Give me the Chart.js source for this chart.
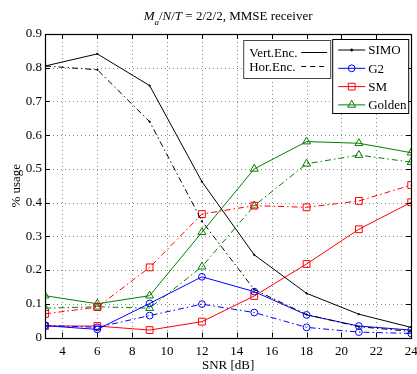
<!DOCTYPE html>
<html>
<head>
<meta charset="utf-8">
<script src="https://cdn.jsdelivr.net/npm/chart.js@4.4.1/dist/chart.umd.min.js"></script>
<style>
html, body { margin: 0; padding: 0; background: #fff; }
#wrap { width: 417px; height: 374px; position: relative; }
</style>
</head>
<body>
<div id="wrap"><canvas id="myChart"></canvas></div>
<script>
// SNR points and usage per scheme (Vert = solid, Hor = dash-dot)
const snr = [3, 6, 9, 12, 15, 18, 21, 24];
const simoVert = [0.805, 0.841, 0.747, 0.462, 0.245, 0.131, 0.069, 0.030];
const simoHor = [0.805, 0.794, 0.640, 0.345, 0.142, 0.068, 0.032, 0.018];
const g2Vert = [0.035, 0.024, 0.101, 0.180, 0.136, 0.067, 0.034, 0.022];
const g2Hor = [0.036, 0.030, 0.065, 0.099, 0.074, 0.030, 0.016, 0.012];
const smVert = [0.034, 0.034, 0.022, 0.047, 0.123, 0.218, 0.321, 0.401];
const smHor = [0.070, 0.090, 0.208, 0.366, 0.391, 0.386, 0.405, 0.452];
const goldenVert = [0.124, 0.100, 0.124, 0.312, 0.500, 0.581, 0.576, 0.548];
const goldenHor = [0.087, 0.091, 0.087, 0.210, 0.391, 0.515, 0.541, 0.520];

const xTicks = [4, 6, 8, 10, 12, 14, 16, 18, 20, 22, 24];
const yTicks = [0, 0.1, 0.2, 0.3, 0.4, 0.5, 0.6, 0.7, 0.8, 0.9];
const yTickLabels = ['0', '0.1', '0.2', '0.3', '0.4', '0.5', '0.6', '0.7', '0.8', '0.9'];

const FONT = '"Liberation Serif", "Times New Roman", serif';
const dashDot = [6, 3, 1.5, 3];

const schemes = [
  { name: 'SIMO', color: '#000000', style: 'circle', r: 0.7, fill: '#000000' },
  { name: 'G2', color: '#0000ff', style: 'circle', r: 3.4, fill: 'rgba(0,0,0,0)' },
  { name: 'SM', color: '#ff0000', style: 'rect', r: 4.8, fill: 'rgba(0,0,0,0)' },
  { name: 'Golden', color: '#008000', style: 'triangle', r: 4.6, fill: 'rgba(0,0,0,0)' }
];
const series = [
  [simoVert, simoHor],
  [g2Vert, g2Hor],
  [smVert, smHor],
  [goldenVert, goldenHor]
];

const datasets = [];
schemes.forEach((s, i) => {
  series[i].forEach((vals, k) => {
    datasets.push({
      label: s.name + (k ? ' Hor' : ' Vert'),
      data: snr.map((x, j) => ({ x: x, y: vals[j] })),
      borderColor: s.color,
      backgroundColor: s.color,
      borderWidth: 1,
      borderDash: k ? dashDot : [],
      pointStyle: s.style,
      pointRadius: s.r,
      pointBorderWidth: 1,
      pointBackgroundColor: s.fill,
      pointBorderColor: s.color,
      tension: 0
    });
  });
});

function drawTitle(ctx, a) {
  const parts = [
    { t: 'M', f: 'italic 13px ' + FONT, dy: 0 },
    { t: 'a', f: 'italic 9px ' + FONT, dy: 5 },
    { t: '/', f: '13px ' + FONT, dy: 0 },
    { t: 'N', f: 'italic 13px ' + FONT, dy: 0 },
    { t: '/', f: '13px ' + FONT, dy: 0 },
    { t: 'T', f: 'italic 13px ' + FONT, dy: 0 },
    { t: ' = 2/2/2, MMSE receiver', f: '13px ' + FONT, dy: 0 }
  ];
  let total = 0;
  parts.forEach(p => { ctx.font = p.f; p.w = ctx.measureText(p.t).width; total += p.w; });
  let x = (a.left + a.right) / 2 - total / 2;
  ctx.fillStyle = '#000';
  ctx.textBaseline = 'alphabetic';
  ctx.textAlign = 'left';
  parts.forEach(p => { ctx.font = p.f; ctx.fillText(p.t, x, 20 + p.dy); x += p.w; });
}

function drawLegends(ctx, a) {
  ctx.font = '13px ' + FONT;
  ctx.textBaseline = 'middle';
  ctx.textAlign = 'left';

  // scheme legend
  const rw = 76, rh = 74;
  const rx = a.right - 3 - rw, ry = a.top + 5;
  ctx.fillStyle = '#fff';
  ctx.fillRect(rx, ry, rw, rh);
  ctx.strokeStyle = '#000';
  ctx.lineWidth = 1;
  ctx.setLineDash([]);
  ctx.strokeRect(rx + 0.5, ry + 0.5, rw, rh);
  schemes.forEach((s, i) => {
    const cy = ry + 11 + i * 18.3;
    ctx.strokeStyle = s.color;
    ctx.beginPath();
    ctx.moveTo(rx + 6, cy);
    ctx.lineTo(rx + 33, cy);
    ctx.stroke();
    ctx.fillStyle = s.fill;
    Chart.helpers.drawPoint(ctx, { pointStyle: s.style, radius: Math.max(s.r, 1), borderWidth: 1, rotation: 0 }, rx + 19.5, cy);
    ctx.fillStyle = '#000';
    ctx.fillText(s.name, rx + 36, cy + 1);
  });

  // encoding legend
  const lw = 87, lh = 38;
  const lx = rx - 2 - lw, ly = a.top + 6;
  ctx.fillStyle = '#fff';
  ctx.fillRect(lx, ly, lw, lh);
  ctx.strokeStyle = '#444';
  ctx.strokeRect(lx + 0.5, ly + 0.5, lw, lh);
  [['Vert.Enc.', []], ['Hor.Enc.', [5, 4]]].forEach((e, i) => {
    const cy = ly + 12.5 + i * 14;
    ctx.fillStyle = '#000';
    ctx.fillText(e[0], lx + 6, cy + 1);
    ctx.strokeStyle = '#000';
    ctx.setLineDash(e[1]);
    ctx.beginPath();
    ctx.moveTo(lx + 58, cy);
    ctx.lineTo(lx + 84, cy);
    ctx.stroke();
  });
  ctx.setLineDash([]);
}

const frame = {
  id: 'frame',
  beforeDatasetsDraw(chart) {
    const { ctx, chartArea: a, scales: { x, y } } = chart;
    ctx.save();
    ctx.strokeStyle = '#8a8a8a';
    ctx.lineWidth = 1;
    ctx.setLineDash([1, 3]);
    xTicks.forEach(v => {
      const px = Math.round(x.getPixelForValue(v)) + 0.5;
      ctx.beginPath(); ctx.moveTo(px, a.top); ctx.lineTo(px, a.bottom); ctx.stroke();
    });
    yTicks.forEach(v => {
      const py = Math.round(y.getPixelForValue(v)) + 0.5;
      ctx.beginPath(); ctx.moveTo(a.left, py); ctx.lineTo(a.right, py); ctx.stroke();
    });
    ctx.restore();
  },
  afterDraw(chart) {
    const { ctx, chartArea: a, scales: { x, y } } = chart;
    ctx.save();
    ctx.strokeStyle = '#000';
    ctx.lineWidth = 1;
    ctx.setLineDash([]);
    // inward tick marks
    const tl = 5;
    ctx.beginPath();
    xTicks.forEach(v => {
      const px = Math.round(x.getPixelForValue(v)) + 0.5;
      ctx.moveTo(px, a.bottom); ctx.lineTo(px, a.bottom - tl);
      ctx.moveTo(px, a.top); ctx.lineTo(px, a.top + tl);
    });
    yTicks.forEach(v => {
      const py = Math.round(y.getPixelForValue(v)) + 0.5;
      ctx.moveTo(a.left, py); ctx.lineTo(a.left + tl, py);
      ctx.moveTo(a.right, py); ctx.lineTo(a.right - tl, py);
    });
    ctx.stroke();
    ctx.lineWidth = 1.2;
    ctx.strokeRect(Math.round(a.left) + 0.5, Math.round(a.top) + 0.5,
      Math.round(a.right - a.left), Math.round(a.bottom - a.top));
    drawLegends(ctx, a);
    drawTitle(ctx, a);
    ctx.restore();
  }
};

Chart.defaults.font.family = FONT;
Chart.defaults.font.size = 13;
Chart.defaults.color = '#000';

const ctx = document.getElementById('myChart');

new Chart(ctx, {
  type: 'line',
  data: { datasets: datasets },
  options: {
    responsive: true,
    maintainAspectRatio: false,
    animation: false,
    devicePixelRatio: 1,
    layout: { padding: { top: 34, right: 4, left: 0, bottom: 0 } },
    plugins: {
      legend: { display: false },
      tooltip: { enabled: false }
    },
    scales: {
      x: {
        type: 'linear',
        min: 3,
        max: 24,
        afterBuildTicks: s => { s.ticks = xTicks.map(v => ({ value: v })); },
        afterFit: s => { s.height = 36.5; s.paddingLeft = 0; s.paddingRight = 0; },
        grid: { display: false, drawTicks: false },
        border: { display: false },
        ticks: { padding: 6, maxRotation: 0, autoSkip: false, callback: v => String(v) },
        title: { display: true, text: 'SNR [dB]', padding: { top: 0, bottom: 1 } }
      },
      y: {
        min: 0,
        max: 0.9,
        afterBuildTicks: s => { s.ticks = yTicks.map(v => ({ value: v })); },
        afterFit: s => { s.width = 45; s.paddingTop = 0; s.paddingBottom = 0; },
        grid: { display: false, drawTicks: false },
        border: { display: false },
        ticks: { padding: 3, callback: (v, i) => yTickLabels[i] },
        title: { display: true, text: '% usage', padding: { top: 9, bottom: 0 } }
      }
    }
  },
  plugins: [frame]
});
</script>
</body>
</html>
